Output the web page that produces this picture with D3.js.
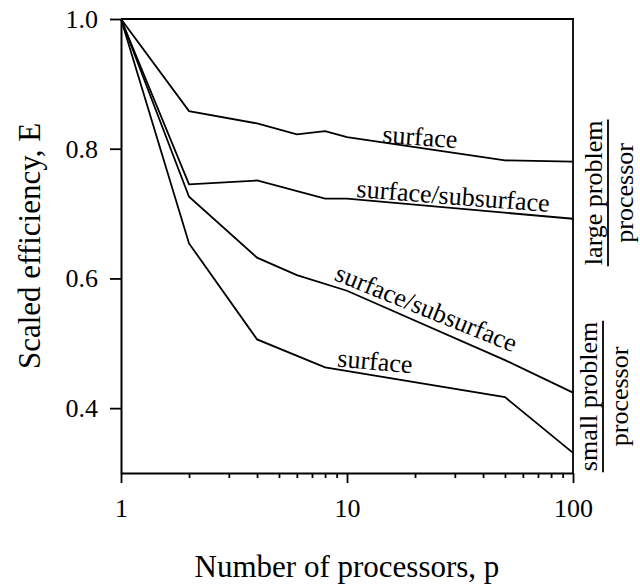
<!DOCTYPE html>
<html>
<head>
<meta charset="utf-8">
<script src="https://cdn.jsdelivr.net/npm/d3@7"></script>
<style>
  body { margin: 0; background: #fff; }
  svg text { font-family: "Liberation Serif", "Times New Roman", serif; fill: #000; }
</style>
</head>
<body>
<svg id="chart" width="640" height="588"></svg>
<script>
// -- DATA --
const largeSurfaceP = [1, 2, 4, 6, 8, 10, 50, 100];
const largeSurfaceE = [1.0, 0.858, 0.839, 0.822, 0.827, 0.818, 0.782, 0.780];
const largeSubsurfaceP = [1, 2, 4, 8, 10, 100];
const largeSubsurfaceE = [1.0, 0.745, 0.751, 0.723, 0.723, 0.692];
const smallSubsurfaceP = [1, 2, 4, 6, 10, 50, 100];
const smallSubsurfaceE = [1.0, 0.726, 0.632, 0.605, 0.581, 0.474, 0.424];
const smallSurfaceP = [1, 2, 4, 8, 50, 100];
const smallSurfaceE = [1.0, 0.654, 0.506, 0.463, 0.417, 0.331];

const yTicks = [0.4, 0.6, 0.8, 1.0];
const xMajor = [1, 10, 100];
const xMinor = [2, 3, 4, 5, 6, 7, 8, 9, 20, 30, 40, 50, 60, 70, 80, 90];

// curve labels (anchor in data units, angle in degrees)
const labelText = ["surface", "surface/subsurface", "surface/subsurface", "surface"];
const labelP = [20.9, 29.3, 21.7, 13.2];
const labelE = [0.805, 0.714, 0.542, 0.459];
const labelAngle = [4, 4.4, 22, 5];

// right side fractions
const fracTop = ["large problem", "small problem"];
const fracBottom = ["processor", "processor"];
const fracE = [0.732, 0.418];

// -- LAYOUT --
const mLeft = 121, mRight = 573, mTop = 19, mBottom = 473;
const svg = d3.select("#chart");

const x = d3.scaleLog().domain([1, 100]).range([mLeft, mRight]);
const y = d3.scaleLinear().domain([0.3, 1.0]).range([mBottom, mTop]);

const series = [
    [largeSurfaceP, largeSurfaceE],
    [largeSubsurfaceP, largeSubsurfaceE],
    [smallSubsurfaceP, smallSubsurfaceE],
    [smallSurfaceP, smallSurfaceE]
].map(([ps, es]) => ps.map((p, i) => [p, es[i]]));

// frame (top + right)
svg.append("path")
    .attr("d", `M${mLeft},${mTop}H${mRight}V${mBottom}`)
    .attr("fill", "none")
    .attr("stroke", "#000")
    .attr("stroke-width", 1.8);

// -- Y AXIS --
const yAxis = svg.append("g")
    .attr("transform", `translate(${mLeft},0)`)
    .call(d3.axisLeft(y).tickValues(yTicks).tickFormat(d3.format(".1f"))
        .tickSize(11).tickSizeOuter(0).tickPadding(12));
yAxis.selectAll("text").attr("font-size", 26);

// -- X AXIS --
const xAxis = svg.append("g")
    .attr("transform", `translate(0,${mBottom})`)
    .call(d3.axisBottom(x).tickValues(xMajor).tickFormat(d3.format("d"))
        .tickSize(10).tickSizeOuter(0).tickPadding(16));
xAxis.selectAll("text").attr("font-size", 26);

svg.append("g")
    .attr("transform", `translate(0,${mBottom})`)
    .call(d3.axisBottom(x).tickValues(xMinor).tickFormat("").tickSize(5).tickSizeOuter(0))
    .call(g => g.select(".domain").remove());

svg.selectAll(".domain").attr("stroke-width", 2);
svg.selectAll(".tick line").attr("stroke-width", 1.8);

// -- LINES --
const line = d3.line().x(d => x(d[0])).y(d => y(d[1]));
svg.append("g")
    .selectAll("path")
    .data(series)
    .enter().append("path")
    .attr("d", line)
    .attr("fill", "none")
    .attr("stroke", "#000")
    .attr("stroke-width", 1.8)
    .attr("stroke-linejoin", "miter");

// -- CURVE LABELS --
svg.append("g")
    .selectAll("text")
    .data(labelText)
    .enter().append("text")
    .attr("transform", (d, i) => `translate(${x(labelP[i])},${y(labelE[i])}) rotate(${labelAngle[i]})`)
    .attr("text-anchor", "middle")
    .attr("font-size", 26)
    .text(d => d);

// -- FRACTIONS ON THE RIGHT --
const fracShift = [0, -5];
fracTop.forEach((t, i) => {
    const cy = y(fracE[i]);
    const dx = fracShift[i];
    const topText = svg.append("text")
        .attr("transform", `translate(${602 + dx},${cy}) rotate(-90)`)
        .attr("text-anchor", "middle")
        .attr("font-size", 26)
        .text(t);
    const len = topText.node().getComputedTextLength();
    svg.append("line")
        .attr("x1", 608 + dx).attr("x2", 608 + dx)
        .attr("y1", cy - len / 2 - 1).attr("y2", cy + len / 2 + 1)
        .attr("stroke", "#000")
        .attr("stroke-width", 1.8);
    svg.append("text")
        .attr("transform", `translate(${633 + dx},${cy}) rotate(-90)`)
        .attr("text-anchor", "middle")
        .attr("font-size", 26)
        .text(fracBottom[i]);
});

// -- AXIS TITLES --
svg.append("text")
    .attr("x", (mLeft + mRight) / 2)
    .attr("y", 577)
    .attr("text-anchor", "middle")
    .attr("font-size", 31)
    .text("Number of processors, p");

svg.append("text")
    .attr("transform", `translate(40,${(mTop + mBottom) / 2}) rotate(-90)`)
    .attr("text-anchor", "middle")
    .attr("font-size", 31)
    .text("Scaled efficiency, E");
</script>
</body>
</html>
